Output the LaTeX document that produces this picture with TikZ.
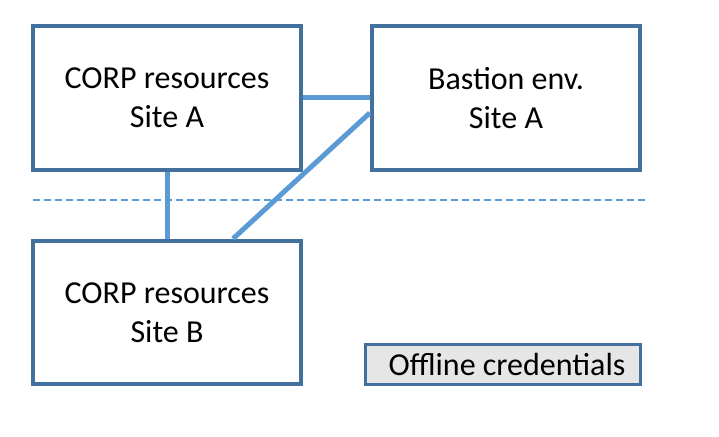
\documentclass[tikz,border=0pt]{standalone}
\usepackage{fontspec}
\setmainfont{Carlito}
\usetikzlibrary{calc}
\definecolor{boxline}{RGB}{65,113,156}
\definecolor{link}{RGB}{91,155,213}
\definecolor{credfill}{RGB}{231,230,230}
\tikzset{
  sitebox/.style={draw=boxline, line width=4.5pt, fill=white, minimum width=268pt, minimum height=144pt, inner sep=0pt, align=center, font=\fontsize{32pt}{39pt}\selectfont},
  credbox/.style={draw=boxline, line width=3pt, fill=credfill, minimum width=275pt, minimum height=39pt, inner sep=0pt, font=\fontsize{32pt}{39pt}\selectfont},
  linkline/.style={draw=link, line width=5pt},
  sepline/.style={draw=link, line width=1.5pt, dash pattern=on 7pt off 4pt}
}
\begin{document}
\begin{tikzpicture}[x=1pt,y=1pt]
\useasboundingbox (0,0) rectangle (719,436);
\coordinate (dl) at (33,236);
\coordinate (dr) at (648,236);
\draw[sepline] (dl) -- (dr);
\node[sitebox] (A) at (167,338) {CORP resources\\Site A};
\node[sitebox] (S) at (506,338) {Bastion env.\\Site A};
\node[sitebox, minimum height=143pt] (B) at (167,123.5) {CORP resources\\Site B};
\node[credbox] (C) at (502.5,71.5) {\hspace{9pt}Offline credentials};
\draw[linkline] (A.east) -- (S.west);
\draw[linkline] (A.south) -- (B.north);
\draw[linkline] ([xshift=66pt]B.north) -- ([yshift=-15pt]S.west);
\end{tikzpicture}
\end{document}
